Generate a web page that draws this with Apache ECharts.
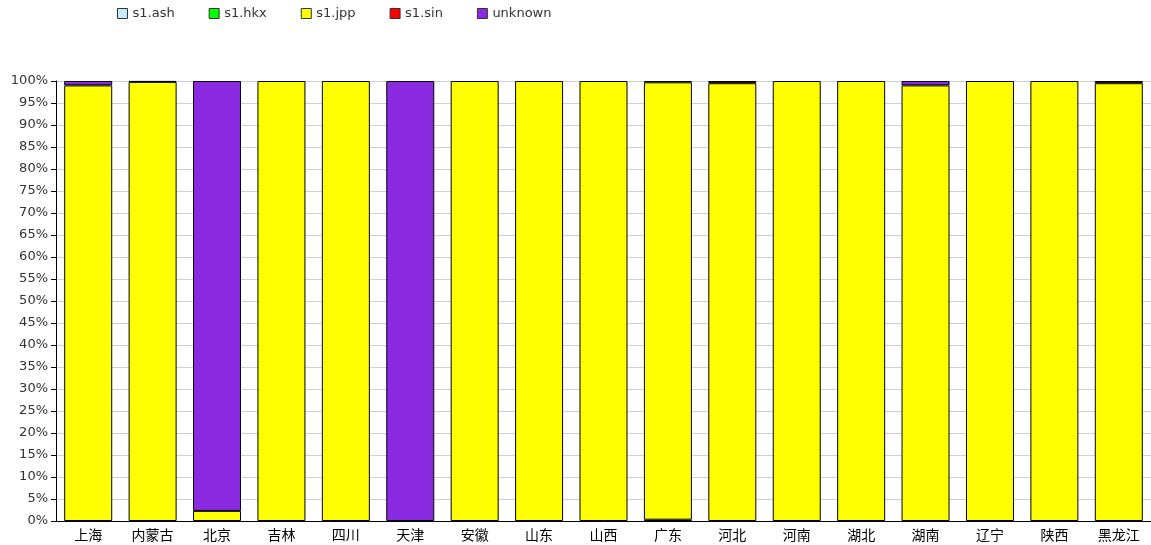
<!DOCTYPE html>
<html><head><meta charset="utf-8">
<script src="https://cdn.jsdelivr.net/npm/echarts@6/dist/echarts.min.js"></script>
<style>html,body{margin:0;padding:0;background:#fff}#c{width:1151px;height:545px}</style>
</head><body><div id="c"></div>
<script>
const categories = ['上海','内蒙古','北京','吉林','四川','天津','安徽','山东','山西','广东','河北','河南','湖北','湖南','辽宁','陕西','黑龙江'];
const ash     = [0,0,0,0,0,0,0,0,0,0.3,0,0,0,0,0,0,0];
const hkx     = [0,0,0,0,0,0,0,0,0,0,0,0,0,0,0,0,0];
const jpp     = [99,99.8,2.3,100,100,0,100,100,100,99.4,99.5,100,100,99,100,100,99.5];
const sin     = [0,0,0,0,0,0,0,0,0,0,0.5,0,0,0,0,0,0];
const unknown = [1,0.2,97.7,0,0,100,0,0,0,0.3,0,0,0,1,0,0,0.5];
const seriesNames = ['s1.ash','s1.hkx','s1.jpp','s1.sin','unknown'];
const seriesData = [ash,hkx,jpp,sin,unknown];
const colors = ['#c6ecff','#00ff00','#ffff00','#ff0000','#8a2be2'];

const chart = echarts.init(document.getElementById('c'));
const font = 'Tahoma, "DejaVu Sans", "Noto Sans CJK SC", sans-serif';
chart.setOption({
  animation:false,
  color:colors,
  legend:{
    left:112, top:2, itemWidth:10, itemHeight:10, itemGap:34,
    icon:'rect',
    textStyle:{fontFamily:font,fontSize:13,color:'#333'},
    itemStyle:{borderColor:'#333',borderWidth:1}
  },
  grid:{left:56, top:81, width:1100, height:440, containLabel:false},
  xAxis:{
    type:'category', data:categories,
    axisLine:{lineStyle:{color:'#000',width:1}},
    axisTick:{alignWithLabel:true,length:5,lineStyle:{color:'#000'}},
    axisLabel:{fontFamily:'"Noto Sans CJK SC", sans-serif',fontSize:14,color:'#000',margin:7}
  },
  yAxis:{
    type:'value', min:0, max:100, interval:5,
    axisLine:{show:true,lineStyle:{color:'#000'}},
    axisTick:{show:true,length:5,lineStyle:{color:'#000'}},
    axisLabel:{formatter:'{value}%',fontFamily:font,fontSize:13,color:'#333',margin:8},
    splitLine:{lineStyle:{color:'#d0d0d0'}}
  },
  series: seriesNames.map((n,i)=>({
    name:n, type:'bar', stack:'a', barWidth:48,
    data:seriesData[i].map(v => v === 0 ? null : v),
    itemStyle:{color:colors[i],borderColor:'#000',borderWidth:1}
  }))
});
</script></body></html>
